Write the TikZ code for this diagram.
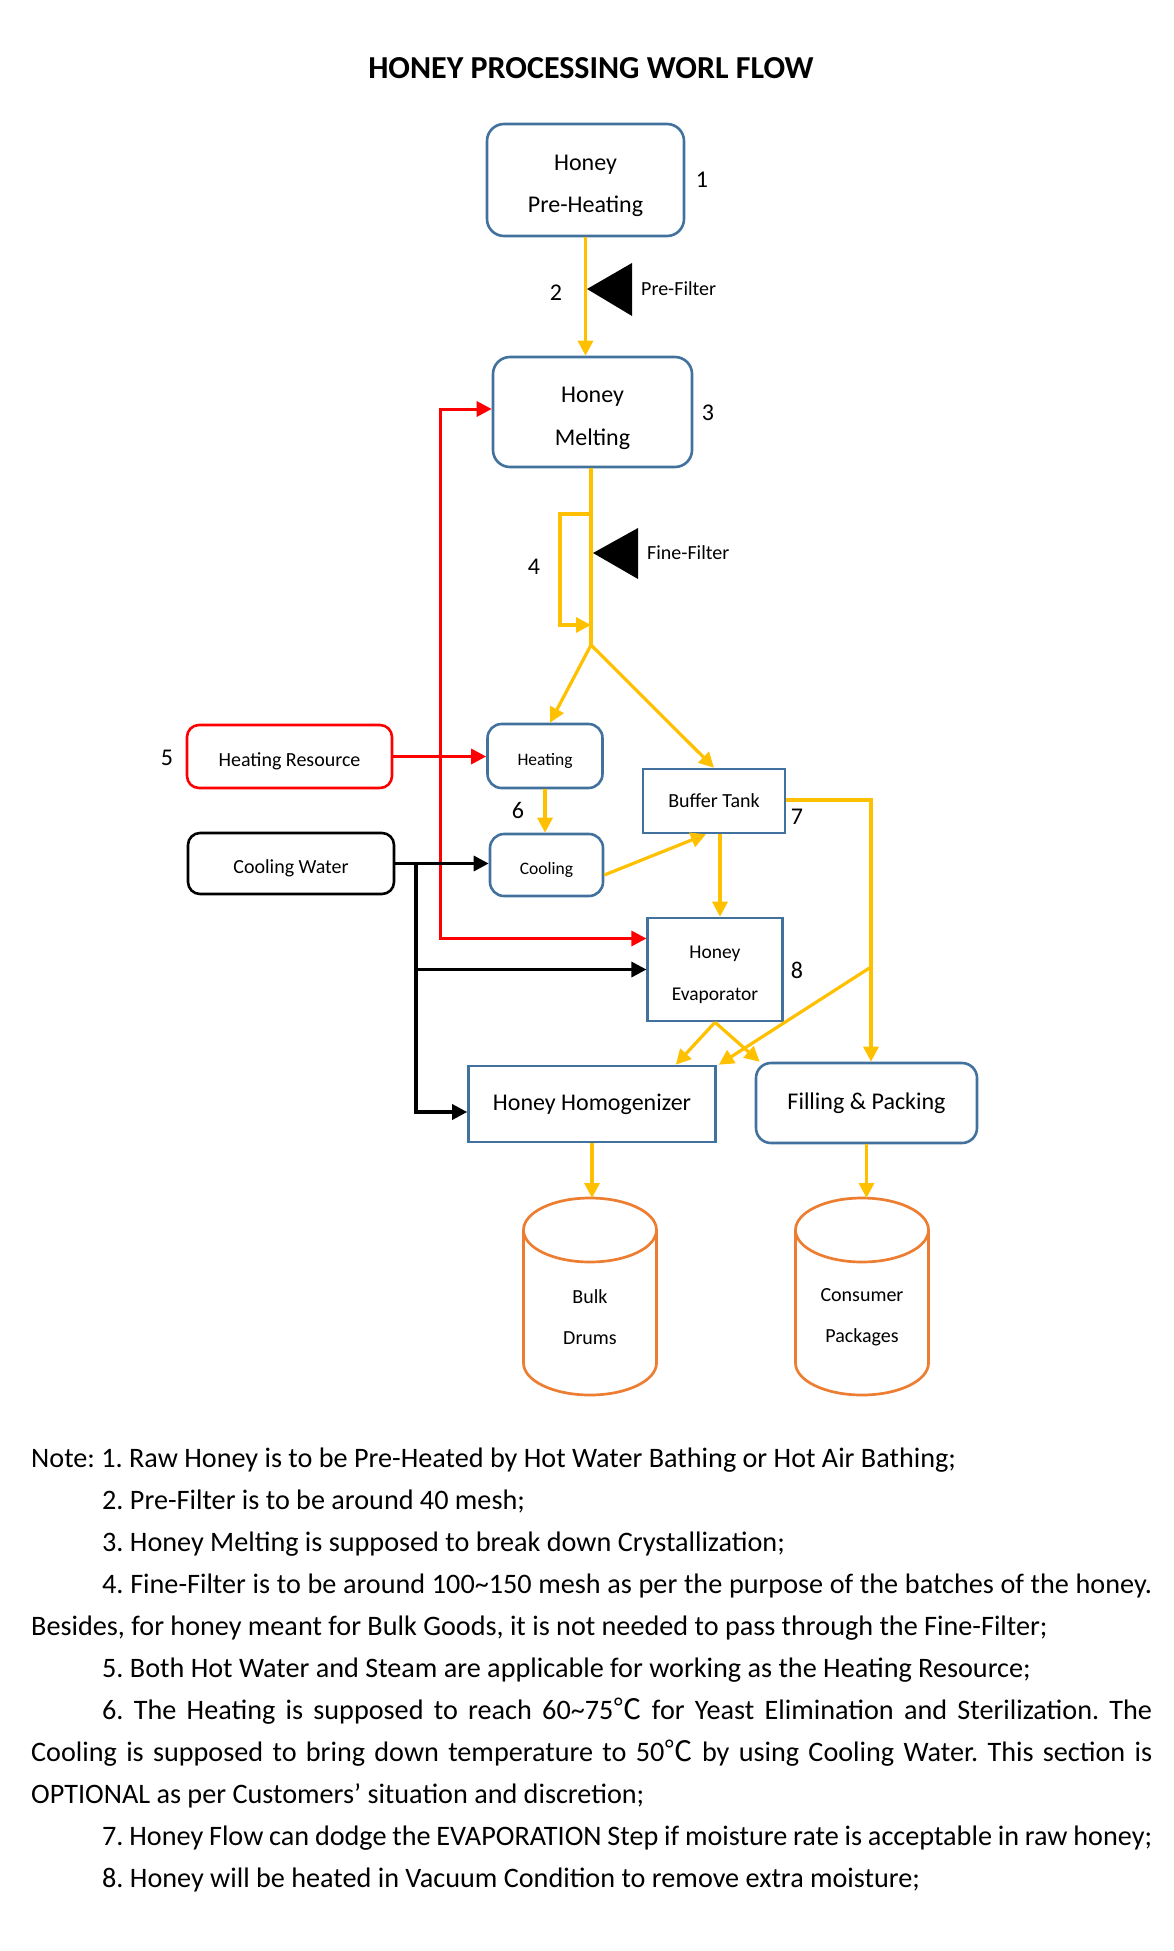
\documentclass[tikz,border=0pt]{standalone}
\usepackage{fontspec}
\setmainfont{Carlito}
\newfontfamily\cjk{Noto Sans CJK SC}
\usepackage{xcolor}
\usetikzlibrary{arrows.meta, calc}

\definecolor{flowyellow}{RGB}{255,192,0}
\definecolor{boxblue}{RGB}{65,113,156}
\definecolor{drumorange}{RGB}{237,125,49}

% invisible strut that pushes node text down a little
\newcommand{\lowstrut}[1]{\rule{0pt}{#1}}

\tikzset{
	flow/.style={draw=flowyellow, line width=3.2pt, -{Triangle[length=15pt,width=15pt]}},
	flowline/.style={draw=flowyellow, line width=3.2pt},
	heatline/.style={draw=red, line width=3pt, -{Triangle[length=15pt,width=15pt]}},
	coldline/.style={draw=black, line width=3.2pt, -{Triangle[length=15pt,width=15pt]}},
	procbox/.style={draw=boxblue, line width=2.6pt, rounded corners=17pt, align=center, inner sep=0pt},
	tankbox/.style={draw=boxblue, line width=2.6pt, align=center, inner sep=0pt},
	hotbox/.style={draw=red, line width=2.6pt, rounded corners=12pt, align=center, inner sep=0pt, font=\fontsize{20}{24}\selectfont},
	coldbox/.style={draw=black, line width=2.6pt, rounded corners=12pt, align=center, inner sep=0pt, font=\fontsize{20}{24}\selectfont},
	drum/.style={draw=drumorange, line width=2.7pt},
	steplabel/.style={inner sep=0pt, font=\fontsize{24}{28}\selectfont},
	filterlabel/.style={inner sep=0pt, anchor=west, font=\fontsize{20}{24}\selectfont},
}

\begin{document}
\begin{tikzpicture}[x=1pt, y=-1pt]
	\useasboundingbox (0,0) rectangle (1173,1951);

	\def\drumR{66.5};
	\def\drumry{32};
	\def\drumTop{1230};
	\def\drumBot{1363};

	% title
	\node[font=\fontsize{32}{38}\selectfont\bfseries] (title) at (591,68) {HONEY PROCESSING WORL FLOW};

	% process boxes
	\node[procbox, minimum width=197pt, minimum height=112pt, font=\fontsize{24}{42}\selectfont] (pre) at (585.5,180) {\lowstrut{27.5pt}Honey\\Pre-Heating};
	\node[procbox, minimum width=199pt, minimum height=110pt, font=\fontsize{24}{43}\selectfont] (melt) at (592.5,412) {\lowstrut{27.5pt}Honey\\Melting};
	\node[procbox, rounded corners=14pt, minimum width=115pt, minimum height=64pt, font=\fontsize{17.5}{20}\selectfont] (heat) at (545,756) {\lowstrut{21pt}Heating};
	\node[procbox, rounded corners=14pt, minimum width=113pt, minimum height=62pt, font=\fontsize{17.5}{20}\selectfont] (cool) at (546.5,865) {\lowstrut{21pt}Cooling};
	\node[hotbox, minimum width=205pt, minimum height=63pt] (hres) at (289.5,756.5) {\lowstrut{23pt}Heating Resource};
	\node[coldbox, minimum width=206pt, minimum height=61pt] (cw) at (291,863.5) {\lowstrut{23pt}Cooling Water};
	\node[tankbox, minimum width=142pt, minimum height=64pt, font=\fontsize{20}{24}\selectfont] (buf) at (714,801) {Buffer Tank};
	\node[tankbox, minimum width=134.5pt, minimum height=103pt, font=\fontsize{19.5}{42}\selectfont] (evap) at (715,969.5) {\lowstrut{22.5pt}Honey\\Evaporator};
	\node[tankbox, minimum width=247pt, minimum height=76pt, font=\fontsize{24}{28}\selectfont] (homog) at (592,1104) {Honey Homogenizer};
	\node[procbox, rounded corners=15pt, minimum width=221pt, minimum height=80pt, font=\fontsize{24}{28}\selectfont] (fill) at (866.5,1103) {Filling \& Packing};

	% step numbers
	\node[steplabel] (n1) at (702,180) {1};
	\node[steplabel] (n2) at (556,293) {2};
	\node[steplabel] (n3) at (708,413) {3};
	\node[steplabel] (n4) at (534,567) {4};
	\node[steplabel] (n5) at (167,758) {5};
	\node[steplabel] (n6) at (518,810) {6};
	\node[steplabel] (n7) at (797,817) {7};
	\node[steplabel] (n8) at (797,970) {8};

	% filters
	\fill (587,289) -- (632,263) -- (632,316) -- cycle;
	\node[filterlabel] (prefilt) at (641,289) {Pre-Filter};
	\fill (593,553) -- (638,528) -- (638,579) -- cycle;
	\node[filterlabel] (finefilt) at (647,553) {Fine-Filter};

	% drums
	\foreach \cx/\nm/\txt in {590/bulk/{Bulk\\Drums}, 862/cons/{Consumer\\Packages}} {
		\draw[drum] (\cx,\drumTop) ellipse [x radius=\drumR, y radius=\drumry];
		\draw[drum] (\cx-\drumR,\drumTop) -- (\cx-\drumR,\drumBot) arc [start angle=180, end angle=0, x radius=\drumR, y radius=\drumry] -- (\cx+\drumR,\drumTop);
		\coordinate (\nm top) at (\cx,\drumTop-\drumry);
		\node[align=center, inner sep=0pt, font=\fontsize{20}{41}\selectfont] (\nm) at (\cx,1317.5) {\txt};
	}

	% honey flow
	\coordinate (br) at (591,645);
	\coordinate (ffin) at (591,514);
	\coordinate (ffout) at (591,625);
	\coordinate (bypass) at (871,967);
	\draw[flow] (pre.south) -- (pre.south |- melt.north);
	\draw[flowline] (melt.south -| br) -- (br);
	\draw[flow] (ffin) -- ++(-31,0) |- (ffout);
	\draw[flow] (br) -- ($(heat.north)+(5,0)$);
	\draw[flow] (br) -- (buf.north);
	\draw[flow] (heat.south) -- (heat.south |- cool.north);
	\draw[flow] ($(cool.east)+(0,10)$) -- ($(buf.south)+(-8,0)$);
	\draw[flow] ($(buf.south)+(6,0)$) -- ($(evap.north)+(5,0)$);
	\draw[flow] ($(buf.east)+(0,-1)$) -| (bypass |- fill.north);
	\draw[flow] (bypass) -- ($(homog.north east)+(2,0)$);
	\draw[flow] (evap.south) -- ($(homog.north east)+(-41,0)$);
	\draw[flow] (evap.south) -- ($(fill.north west)+(5,0)$);
	\draw[flow] (homog.south) -- (homog.south |- bulktop);
	\draw[flow] (fill.south) -- (fill.south |- constop);

	% heating resource
	\coordinate (rj) at (440,756);
	\draw[heatline] (hres.east) -- (hres.east -| heat.west);
	\draw[heatline] (rj) |- ($(melt.west)+(0,-3)$);
	\draw[heatline] (rj) |- ($(evap.west)+(0,-31)$);

	% cooling water
	\coordinate (cj) at (416,864);
	\draw[coldline] (cw.east) -- (cw.east -| cool.west);
	\draw[coldline] (cj) |- (evap.west);
	\draw[coldline] (cj) |- ($(homog.west)+(0,8)$);

	% notes
	\node[inner sep=0pt, anchor=base west, text width=1121pt, align=justify, font=\fontsize{28.2}{42}\selectfont] (notes) at (31,1467) {%
		\frenchspacing\setlength{\parindent}{71pt}%
		\noindent Note: 1. Raw Honey is to be Pre-Heated by Hot Water Bathing or Hot Air Bathing;\par
		2. Pre-Filter is to be around 40 mesh;\par
		3. Honey Melting is supposed to break down Crystallization;\par
		4. Fine-Filter is to be around 100\textasciitilde150 mesh as per the purpose of the batches of the honey. \linebreak
		Besides, for honey meant for Bulk Goods, it is not needed to pass through the Fine-Filter;\par
		5. Both Hot Water and Steam are applicable for working as the Heating Resource;\par
		6. The Heating is supposed to reach 60\textasciitilde75{\cjk ℃} for Yeast Elimination and Sterilization. The \linebreak
		Cooling is supposed to bring down temperature to 50{\cjk ℃} by using Cooling Water. This section is \linebreak
		OPTIONAL as per Customers’ situation and discretion;\par
		7. Honey Flow can dodge the EVAPORATION Step if moisture rate is acceptable in raw honey;\par
		8. Honey will be heated in Vacuum Condition to remove extra moisture;};
\end{tikzpicture}
\end{document}
